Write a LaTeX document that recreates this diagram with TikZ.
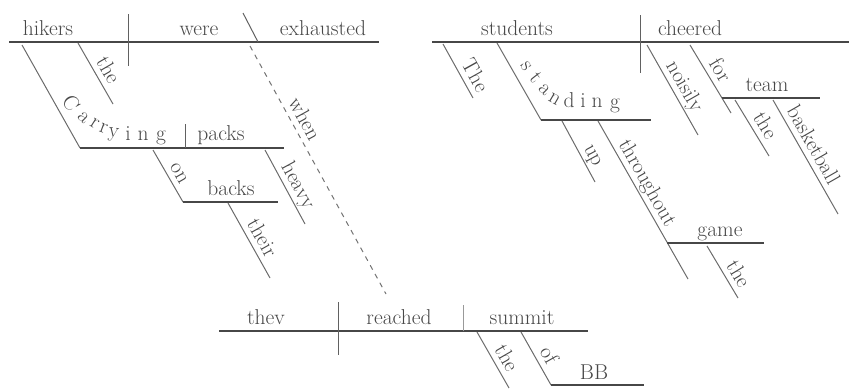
\documentclass[tikz,border=0pt]{standalone}
\usepackage{tikz}
\begin{document}
\begin{tikzpicture}[x=1pt,y=-1pt,
  ln/.style={draw=black!72, line width=1.2pt},
  sl/.style={draw=black!58, line width=1pt},
  dv/.style={draw=black!62, line width=1pt},
  dsh/.style={draw=black!55, line width=1pt, dash pattern=on 5pt off 5pt},
  wd/.style={font=\fontsize{21.5}{25}\selectfont, text=black!72, inner sep=0pt, anchor=base},
  sw/.style={font=\fontsize{21.5}{25}\selectfont, text=black!72, inner sep=5.5pt, text depth=0pt, sloped, above},
  lt/.style={font=\fontsize{21.5}{25}\selectfont, text=black!72, inner sep=0pt, anchor=base},
]
\useasboundingbox (0,0) rectangle (850,388);

% ---------------- left clause ----------------
\coordinate (L0) at (9,42);   \coordinate (L1) at (379,42);
\draw[ln] (L0) -- (L1);
\coordinate (Ld0) at (128,14); \coordinate (Ld1) at (128,66);
\draw[dv] (Ld0) -- (Ld1);
\coordinate (Lc0) at (243,13); \coordinate (Lc1) at (258,42);
\draw[dv] (Lc0) -- (Lc1);
\node[wd] (hikers) at (48,35) {hikers};
\node[wd] (were) at (199,35) {were};
\node[wd] (exhausted) at (323,35) {exhausted};

\coordinate (Lt0) at (78,43); \coordinate (Lt1) at (113,104);
\draw[sl] (Lt0) -- node[sw,pos=.55] (the1) {the} (Lt1);

\coordinate (Cr0) at (22,45); \coordinate (Cr1) at (80,148); \coordinate (Cr2) at (284,148);
\draw[sl] (Cr0) -- (Cr1);
\draw[ln] (Cr1) -- (Cr2);
\node[lt,rotate=-60] (cC) at (65,107) {C};
\node[lt,rotate=-45] (ca) at (80,121) {a};
\node[lt,rotate=-32] (cr1) at (92,128) {r};
\node[lt,rotate=-20] (cr2) at (102,133) {r};
\node[lt,rotate=-8]  (cy) at (113,137) {y};
\node[lt] (ci) at (128,140) {i};
\node[lt] (cn) at (143,140) {n};
\node[lt] (cg) at (161,140) {g};
\coordinate (Pd0) at (185,124); \coordinate (Pd1) at (185,148);
\draw[dv] (Pd0) -- (Pd1);
\node[wd] (packs) at (221,140) {packs};

\coordinate (On0) at (153,150); \coordinate (On1) at (183,202); \coordinate (On2) at (278,202);
\draw[sl] (On0) -- node[sw,pos=.55] (on) {on} (On1);
\draw[ln] (On1) -- (On2);
\node[wd] (backs) at (231,195) {backs};
\coordinate (Th0) at (228,203); \coordinate (Th1) at (270,278);
\draw[sl] (Th0) -- node[sw,pos=.55] (their) {their} (Th1);
\coordinate (Hv0) at (265,150); \coordinate (Hv1) at (305,224);
\draw[sl] (Hv0) -- node[sw,pos=.56] (heavy) {heavy} (Hv1);

\coordinate (Dw0) at (250,46); \coordinate (Dw1) at (386,294);
\draw[dsh] (Dw0) -- node[sw,pos=.32] (when) {when} (Dw1);

% ---------------- right clause ----------------
\coordinate (R0) at (432,42); \coordinate (R1) at (849,42);
\draw[ln] (R0) -- (R1);
\coordinate (Rd0) at (640,15); \coordinate (Rd1) at (640,73);
\draw[dv] (Rd0) -- (Rd1);
\node[wd] (students) at (517,35) {students};
\node[wd] (cheered) at (690,35) {cheered};

\coordinate (Tt0) at (443,44); \coordinate (Tt1) at (473,98);
\draw[sl] (Tt0) -- node[sw,pos=.7] (The) {The} (Tt1);

\coordinate (St0) at (497,43); \coordinate (St1) at (541,120); \coordinate (St2) at (651,120);
\draw[sl] (St0) -- (St1);
\draw[ln] (St1) -- (St2);
\node[lt,rotate=-58] (ss) at (522,69) {s};
\node[lt,rotate=-52] (st) at (531,81) {t};
\node[lt,rotate=-45] (sa) at (541,93) {a};
\node[lt,rotate=-30] (sn) at (552,103) {n};
\node[lt] (sd) at (569,107) {d};
\node[lt] (si) at (583,107) {i};
\node[lt] (sn2) at (597,107) {n};
\node[lt] (sg) at (615,108) {g};

\coordinate (Up0) at (562,121); \coordinate (Up1) at (595,182);
\draw[sl] (Up0) -- node[sw,pos=.65] (up) {up} (Up1);
\coordinate (Tg0) at (598,121); \coordinate (Tg1) at (688,279);
\draw[sl] (Tg0) -- node[sw,pos=.43] (throughout) {throughout} (Tg1);
\coordinate (Gm0) at (667,243); \coordinate (Gm1) at (764,243);
\draw[ln] (Gm0) -- (Gm1);
\node[wd] (game) at (720,236) {game};
\coordinate (Tg2) at (707,246); \coordinate (Tg3) at (738,298);
\draw[sl] (Tg2) -- node[sw,pos=.66] (the3) {the} (Tg3);

\coordinate (Ns0) at (647,45); \coordinate (Ns1) at (698,135);
\draw[sl] (Ns0) -- node[sw,pos=.53] (noisily) {noisily} (Ns1);
\coordinate (Fr0) at (690,45); \coordinate (Fr1) at (731,113);
\draw[sl] (Fr0) -- node[sw,pos=.47] (for) {for} (Fr1);
\coordinate (Tm0) at (722,98); \coordinate (Tm1) at (820,98);
\draw[ln] (Tm0) -- (Tm1);
\node[wd] (team) at (767,91) {team};
\coordinate (Te0) at (735,100); \coordinate (Te1) at (769,156);
\draw[sl] (Te0) -- node[sw,pos=.57] (the4) {the} (Te1);
\coordinate (Bk0) at (773,100); \coordinate (Bk1) at (838,214);
\draw[sl] (Bk0) -- node[sw,pos=.45] (basketball) {basketball} (Bk1);

% ---------------- lower clause ----------------
\coordinate (B0) at (219,331); \coordinate (B1) at (588,331);
\draw[ln] (B0) -- (B1);
\coordinate (Bd0) at (338,302); \coordinate (Bd1) at (338,355);
\draw[dv] (Bd0) -- (Bd1);
\coordinate (Bo0) at (463,305); \coordinate (Bo1) at (463,331);
\draw[dv,draw=black!40] (Bo0) -- (Bo1);
\node[wd] (thev) at (266,324) {thev};
\node[wd] (reached) at (399,324) {reached};
\node[wd] (summit) at (522,324) {summit};
\coordinate (Sa0) at (477,332); \coordinate (Sa1) at (509,388);
\draw[sl] (Sa0) -- node[sw,pos=.58] (the5) {the} (Sa1);
\coordinate (Of0) at (521,332); \coordinate (Of1) at (551,385); \coordinate (Of2) at (644,385);
\draw[sl] (Of0) -- node[sw,pos=.56] (of) {of} (Of1);
\draw[ln] (Of1) -- (Of2);
\node[wd] (BB) at (594,379) {BB};
\end{tikzpicture}
\end{document}
